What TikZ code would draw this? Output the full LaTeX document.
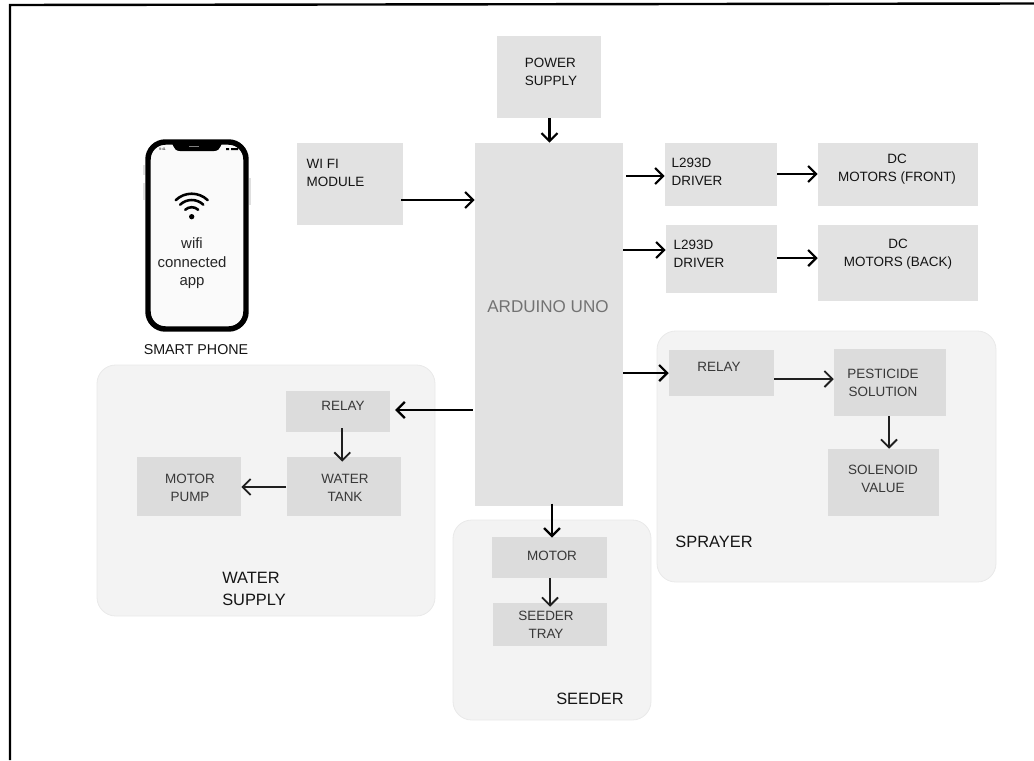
\documentclass[tikz,border=0pt]{standalone}
\usepackage{fontspec}
\setmainfont{Liberation Sans}
\usepackage{xcolor}
\usetikzlibrary{arrows.meta,fit}
\definecolor{boxgray}{HTML}{E2E2E2}
\definecolor{innergray}{HTML}{DCDCDC}
\definecolor{panelgray}{HTML}{F3F3F3}
\definecolor{paneledge}{HTML}{E9E9E9}

\begin{document}
\begin{tikzpicture}[
  x=0.75pt, y=-0.75pt,
  >={Straight Barb[length=6pt,width=12pt]},
  box/.style={fill=boxgray, inner sep=0pt},
  inbox/.style={fill=innergray, inner sep=0pt},
  panel/.style={fill=panelgray, draw=paneledge, line width=0.6pt, rounded corners=14pt, inner sep=0pt},
  txt/.style={font=\fontsize{10.1}{13.5}\selectfont, text=black!92, inner sep=0pt, align=center},
  intxt/.style={txt, text=black!78},
  bigtxt/.style={font=\fontsize{12.3}{16.7}\selectfont, text=black!92, inner sep=0pt, align=left},
  flow/.style={->, line width=1.7pt, black},
  inflow/.style={->, line width=1.4pt, black!88}]
  \useasboundingbox (0,0) rectangle (1034,760);
  % frame, open at right and bottom
  \draw[line width=1.8pt] (10,760) -- (10,5) -- (1034,3.5);
  % group panels
  \node[panel, fit={(97,365) (435,616)}]  (waterpanel)  {};
  \node[panel, fit={(453,520) (651,720)}] (seederpanel) {};
  \node[panel, fit={(657,331) (996,582)}] (sprayerpanel) {};
  % main blocks
  \node[box, fit={(497,36) (601,118)}]   (power)   {};
  \node[box, fit={(297,143) (403,225)}]  (wifi)    {};
  \node[box, fit={(475,143) (623,506)}]  (arduino) {};
  \node[box, fit={(665,143) (777,206)}]  (driverf) {};
  \node[box, fit={(818,143) (978,206)}]  (motorf)  {};
  \node[box, fit={(666,225) (777,293)}]  (driverb) {};
  \node[box, fit={(818,225) (978,301)}]  (motorb)  {};
  % sprayer blocks
  \node[inbox, fit={(669,350) (774,396)}]   (relays)   {};
  \node[inbox, fit={(834,349) (946,416)}]   (pesticide) {};
  \node[inbox, fit={(827.5,449) (939,516)}] (solenoid) {};
  % water blocks
  \node[inbox, fit={(286,391) (390,432)}]   (relayw) {};
  \node[inbox, fit={(286.5,457) (401,516)}] (tank)   {};
  \node[inbox, fit={(137,457) (241,516)}]   (pump)   {};
  % seeder blocks
  \node[inbox, fit={(492,537) (607,578)}] (motor) {};
  \node[inbox, fit={(493,603) (607,646)}] (tray)  {};
  % texts
  \node[txt, align=left] (powertext)  at (551,72)    {POWER\\SUPPLY};
  \node[txt, align=left] (wifitext)   at (335.5,172.5) {WI FI\\MODULE};
  \node[font=\fontsize{12.8}{15}\selectfont, text=black!55, inner sep=0pt] (arduinotext) at (548,307) {ARDUINO UNO};
  \node[txt, align=left] (driverftext) at (697,171.5) {L293D\\DRIVER};
  \node[txt, align=left] (driverbtext) at (699,254)   {L293D\\DRIVER};
  \node[txt] (motorftext) at (897,169) {DC\\MOTORS (FRONT)};
  \node[txt] (motorbtext) at (898,254) {DC\\MOTORS (BACK)};
  \node[intxt] (relaystext) at (719,367) {RELAY};
  \node[intxt] (pesttext)   at (883,383) {PESTICIDE\\SOLUTION};
  \node[intxt] (soltext)    at (883,479) {SOLENOID\\VALUE};
  \node[intxt] (relaywtext) at (343,406) {RELAY};
  \node[intxt] (tanktext)   at (345,488) {WATER\\TANK};
  \node[intxt] (pumptext)   at (190,488) {MOTOR\\PUMP};
  \node[intxt] (motortext)  at (552,556) {MOTOR};
  \node[intxt] (traytext)   at (546,625) {SEEDER\\TRAY};
  \node[bigtxt] (sprayertext) at (714,542) {SPRAYER};
  \node[bigtxt] (watertext)   at (254,589) {WATER\\SUPPLY};
  \node[bigtxt] (seedertext)  at (590,699) {SEEDER};
  % phone
  \draw[gray!25, line width=1pt] (144,165) -- (144,175) (144,183) -- (144,200) (250,178) -- (250,205);
  \node[fill=black!2, draw=black, line width=4.1pt, rounded corners=13pt, inner sep=0pt,
        fit={(148,142) (246,329)}] (phone) {};
  \fill (170,142) .. controls (174,142) and (172,151) .. (180,151) -- (214,151)
        .. controls (222,151) and (220,142) .. (224,142) -- cycle;
  \draw[gray, line width=0.5pt] (189,146) -- (199,146);
  \node[font=\fontsize{2.6}{3}\selectfont, inner sep=0pt] (phonetime) at (162.5,149) {9:41};
  \fill (226,148) rectangle (229,150) (231,148) rectangle (238,150);
  \node[circle, fill=black, inner sep=0pt, minimum size=4pt] (wifidot) at (191.7,216.7) {};
  \foreach \r/\a in {9.5/43, 16.7/44, 23/44}
    \draw[line width=1.9pt, line cap=round] (wifidot.center) ++(270-\a:\r) arc[start angle=270-\a, end angle=270+\a, radius=\r];
  \node[font=\fontsize{11.2}{13.9}\selectfont, text=black!85, inner sep=0pt, align=center] (apptext) at (192,263.5) {wifi\\connected\\app};
  \node[txt, font=\fontsize{10.7}{13.5}\selectfont] (phonetext) at (196,350) {SMART PHONE};
  % arduino inputs
  \draw[flow] (power.south -| 549.5,0) -- (arduino.north -| 549.5,0);
  \draw[flow, shorten <=-1.5pt] (wifi.east |- 0,200) -- (arduino.west |- 0,200);
  % arduino outputs
  \draw[flow, shorten <=2.2pt] (arduino.east |- 0,176) -- (driverf.west |- 0,176);
  \draw[flow] (driverf.east |- 0,174) -- (motorf.west |- 0,174);
  \draw[flow] (arduino.east |- 0,250) -- (driverb.west |- 0,250);
  \draw[flow] (driverb.east |- 0,258) -- (motorb.west |- 0,258);
  \draw[flow] (arduino.east |- 0,373) -- (relays.west |- 0,373);
  \draw[flow, shorten <=1.5pt, shorten >=3.7pt] (arduino.west |- 0,410) -- (relayw.east |- 0,410);
  \draw[flow, shorten <=-2pt, shorten >=-0.7pt] (arduino.south -| 552,0) -- (motor.north -| 552,0);
  % sprayer
  \draw[inflow] (relays.east |- 0,379) -- (pesticide.west |- 0,379);
  \draw[inflow] (pesticide.south -| 889,0) -- (solenoid.north -| 889,0);
  % water
  \draw[inflow, shorten <=-3pt, shorten >=-3.7pt] (relayw.south -| 342.3,0) -- (tank.north -| 342.3,0);
  \draw[inflow] (tank.west |- 0,487) -- (pump.east |- 0,487);
  % seeder
  \draw[inflow, shorten >=-3pt] (motor.south -| 550,0) -- (tray.north -| 550,0);
\end{tikzpicture}
\end{document}
